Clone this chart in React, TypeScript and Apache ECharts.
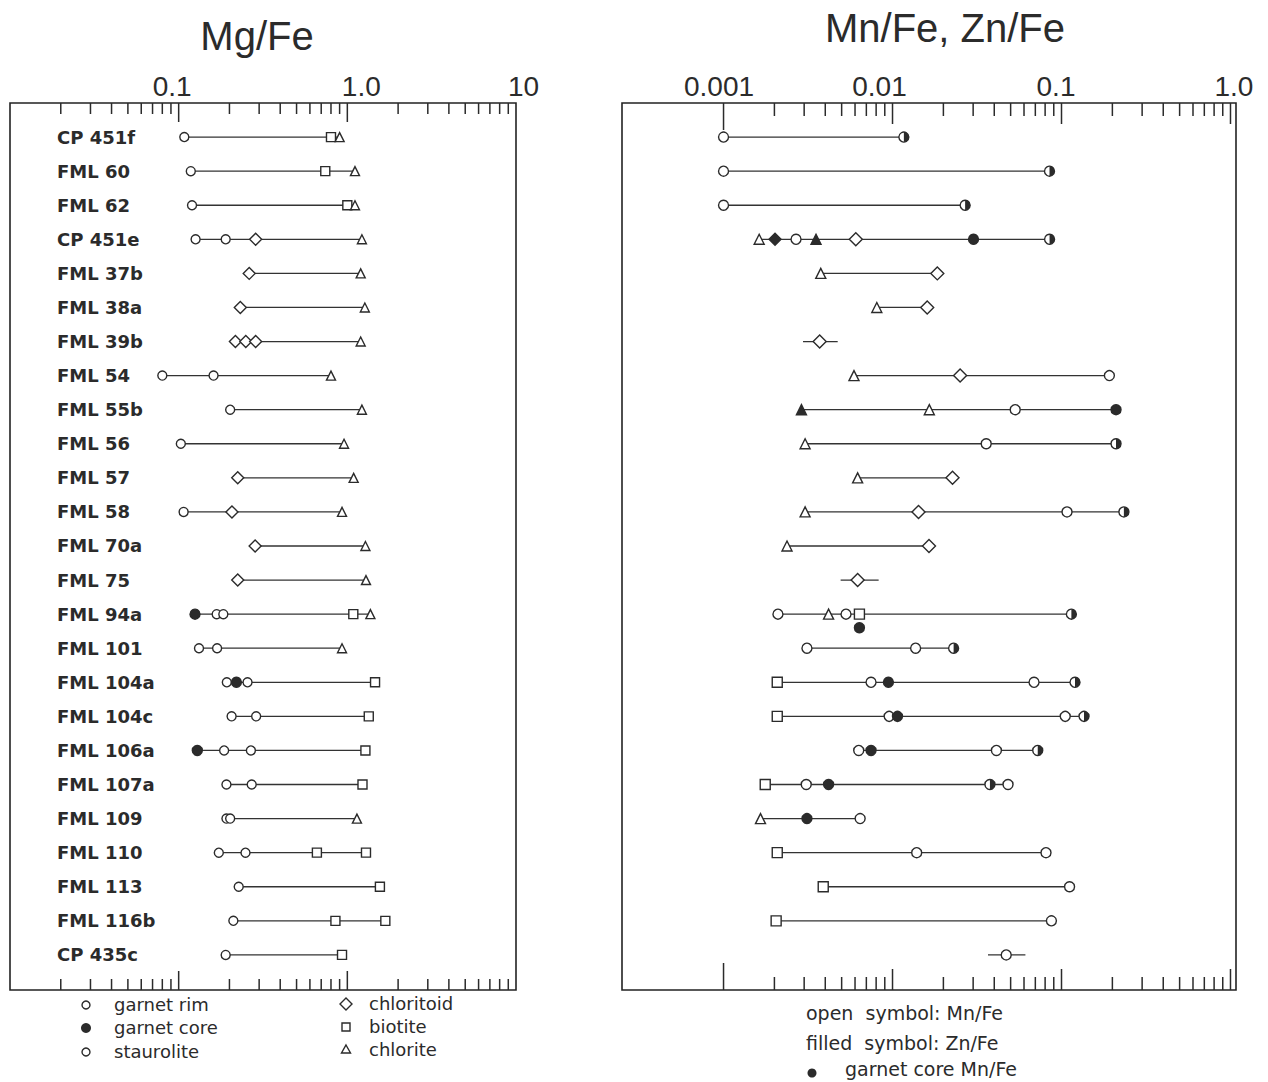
import { useEffect, useRef } from "react";
import * as echarts from "echarts";

// ---------- DATA ----------
const rowNames = [
  "CP 451f", "FML 60", "FML 62", "CP 451e", "FML 37b", "FML 38a", "FML 39b", "FML 54",
  "FML 55b", "FML 56", "FML 57", "FML 58", "FML 70a", "FML 75", "FML 94a", "FML 101",
  "FML 104a", "FML 104c", "FML 106a", "FML 107a", "FML 109", "FML 110", "FML 113",
  "FML 116b", "CP 435c",
];

// Mg/Fe panel: [value, rowIndex]
const mgOpenCircle: [number, number][] = [
  [0.108, 0], [0.118, 1], [0.12, 2], [0.126, 3], [0.19, 3], [0.08, 7], [0.161, 7],
  [0.202, 8], [0.103, 9], [0.107, 11], [0.168, 14], [0.184, 14], [0.132, 15], [0.169, 15],
  [0.193, 16], [0.256, 16], [0.206, 17], [0.288, 17], [0.186, 18], [0.268, 18],
  [0.192, 19], [0.271, 19], [0.192, 20], [0.202, 20], [0.173, 21], [0.249, 21],
  [0.227, 22], [0.211, 23], [0.19, 24],
];
const mgFilledCircle: [number, number][] = [[0.125, 14], [0.22, 16], [0.129, 18]];
const mgDiamond: [number, number][] = [
  [0.286, 3], [0.262, 4], [0.232, 5], [0.217, 6], [0.25, 6], [0.286, 6], [0.224, 10],
  [0.207, 11], [0.284, 12], [0.224, 13],
];
const mgSquare: [number, number][] = [
  [0.8, 0], [0.74, 1], [1.0, 2], [1.085, 14], [1.46, 16], [1.34, 17], [1.28, 18],
  [1.23, 19], [0.66, 21], [1.29, 21], [1.56, 22], [0.85, 23], [1.68, 23], [0.93, 24],
];
const mgTriangle: [number, number][] = [
  [0.9, 0], [1.11, 1], [1.11, 2], [1.22, 3], [1.2, 4], [1.27, 5], [1.2, 6], [0.8, 7],
  [1.22, 8], [0.956, 9], [1.09, 10], [0.93, 11], [1.28, 12], [1.29, 13], [1.37, 14],
  [0.93, 15], [1.14, 20],
];

// Mn/Fe, Zn/Fe panel: [value, rowIndex]
const mnOpenCircle: [number, number][] = [
  [0.001, 0], [0.001, 1], [0.001, 2], [0.002685, 3], [0.192, 7], [0.05321, 8], [0.03584, 9],
  [0.1078, 11], [0.002099, 14], [0.005306, 14], [0.003116, 15], [0.0137, 15],
  [0.007462, 16], [0.06877, 16], [0.00955, 17], [0.1052, 17], [0.00631, 18], [0.04119, 18],
  [0.003086, 19], [0.04825, 19], [0.006433, 20], [0.0139, 21], [0.08095, 21],
  [0.1116, 22], [0.08715, 23], [0.04708, 24],
];
const mnFilledCircle: [number, number][] = [
  [0.03015, 3], [0.2102, 8], [0.009456, 16], [0.0107, 17], [0.007462, 18], [0.004185, 19],
  [0.003116, 20],
];
const mnHalfCircle: [number, number][] = [
  [0.01167, 0], [0.0849, 1], [0.0269, 2], [0.085, 3], [0.2102, 9], [0.234, 11],
  [0.1144, 14], [0.02299, 15], [0.1202, 16], [0.1359, 17], [0.07232, 18], [0.03771, 19],
];
const mnOpenDiamond: [number, number][] = [
  [0.006063, 3], [0.01841, 4], [0.01604, 5], [0.003706, 6], [0.02512, 7], [0.02265, 10],
  [0.01425, 11], [0.01644, 12], [0.006217, 13],
];
const mnFilledDiamond: [number, number][] = [[0.002017, 3]];
const mnOpenTriangle: [number, number][] = [
  [0.001625, 3], [0.003762, 4], [0.008075, 5], [0.005916, 7], [0.01651, 8], [0.003039, 9],
  [0.006217, 10], [0.003039, 11], [0.002375, 12], [0.004185, 14], [0.001655, 20],
];
const mnFilledTriangle: [number, number][] = [[0.003526, 3], [0.002891, 8]];
const mnSquare: [number, number][] = [
  [0.00637, 14], [0.002079, 16], [0.002079, 17], [0.001765, 19], [0.002079, 21],
  [0.00389, 22], [0.002048, 23],
];
const mnGarnetCoreDot: [number, number][] = [[0.00637, 14.4]];
// short isolated dashes around a single symbol: [from, to, row]
const mnStubs: [number, number, number][] = [
  [0.002954, 0.004738, 6], [0.004931, 0.008277, 13], [0.03673, 0.06115, 24],
];

const mgAxisValues = [0.1, 1, 10];
const mgAxisLabels = ["0.1", "1.0", "10"];
const mnAxisValues = [0.001, 0.01, 0.1, 1];
const mnAxisLabels = ["0.001", "0.01", "0.1", "1.0"];

// ---------- HELPERS ----------
const INK = "#2b2b2b";

function rowExtents(groups: [number, number][][], stubs: [number, number, number][] = []) {
  const ext: Record<number, [number, number]> = {};
  groups.forEach((g) =>
    g.forEach(([v, r]) => {
      if (!ext[r]) ext[r] = [v, v];
      else ext[r] = [Math.min(ext[r][0], v), Math.max(ext[r][1], v)];
    })
  );
  const out: number[][] = [];
  Object.keys(ext).forEach((k) => {
    const r = Number(k);
    if (ext[r][1] > ext[r][0]) out.push([ext[r][0], ext[r][1], r]);
  });
  stubs.forEach((s) => out.push([s[0], s[1], s[2]]));
  return out;
}

function logTicks(fromExp: number, toExp: number) {
  const t: number[] = [];
  for (let e = fromExp; e <= toExp; e++) {
    for (let k = 2; k <= 9; k++) t.push(k * Math.pow(10, e));
  }
  return t;
}

function isPow10(v: number) {
  const l = Math.log10(v);
  return Math.abs(l - Math.round(l)) < 1e-6;
}

function tickSeries(gi: number, values: number[], lenFn: (v: number) => number) {
  return {
    type: "custom",
    xAxisIndex: gi,
    yAxisIndex: gi,
    silent: true,
    clip: false,
    z: 1,
    data: values.map((v) => [v, 0]),
    renderItem: (params: any, api: any) => {
      const v = api.value(0);
      const x = api.coord([v, 0])[0];
      const cs = params.coordSys;
      const len = lenFn(v);
      return {
        type: "group",
        children: [
          { type: "line", shape: { x1: x, y1: cs.y, x2: x, y2: cs.y + len }, style: { stroke: INK, lineWidth: 1.5 } },
          {
            type: "line",
            shape: { x1: x, y1: cs.y + cs.height, x2: x, y2: cs.y + cs.height - len },
            style: { stroke: INK, lineWidth: 1.5 },
          },
        ],
      };
    },
  };
}

function lineSeries(gi: number, data: number[][]) {
  return {
    type: "custom",
    xAxisIndex: gi,
    yAxisIndex: gi,
    silent: true,
    z: 2,
    encode: { x: [0, 1], y: 2 },
    data,
    renderItem: (_p: any, api: any) => {
      const a = api.coord([api.value(0), api.value(2)]);
      const b = api.coord([api.value(1), api.value(2)]);
      return {
        type: "line",
        shape: { x1: a[0], y1: a[1], x2: b[0], y2: b[1] },
        style: { stroke: "#333", lineWidth: 1.3 },
      };
    },
  };
}

function scatter(gi: number, data: [number, number][], symbol: string, size: number, filled: boolean) {
  return {
    type: "scatter",
    xAxisIndex: gi,
    yAxisIndex: gi,
    silent: true,
    z: filled ? 4 : 3,
    symbol,
    symbolSize: size,
    data,
    itemStyle: { color: filled ? INK : "#fff", borderColor: INK, borderWidth: 1.4, opacity: 1 },
  };
}

function halfSeries(gi: number, data: [number, number][]) {
  return {
    type: "custom",
    xAxisIndex: gi,
    yAxisIndex: gi,
    silent: true,
    z: 4,
    data,
    renderItem: (_p: any, api: any) => {
      const p = api.coord([api.value(0), api.value(1)]);
      const r = 5;
      return {
        type: "group",
        children: [
          { type: "circle", shape: { cx: p[0], cy: p[1], r }, style: { fill: "#fff", stroke: INK, lineWidth: 1.4 } },
          {
            type: "sector",
            shape: { cx: p[0], cy: p[1], r0: 0, r, startAngle: -Math.PI / 2, endAngle: Math.PI / 2, clockwise: true },
            style: { fill: INK },
          },
        ],
      };
    },
  };
}

function axisLabelFormatter(values: number[], labels: string[]) {
  return (v: number) => {
    const idx = values.findIndex((t) => Math.abs(Math.log10(v) - Math.log10(t)) < 1e-6);
    return idx < 0 ? "" : `{s${idx}|${labels[idx]}}`;
  };
}

const numFont = { fontFamily: "Liberation Sans", fontSize: 28, color: INK };

function richFor(pads: number[][]) {
  const r: any = {};
  pads.forEach((p, i) => {
    r["s" + i] = { ...numFont, padding: p };
  });
  return r;
}

function rowLabel(v: number) {
  const i = Math.round(v);
  return Math.abs(v - i) < 1e-6 && i >= 0 && i < rowNames.length ? rowNames[i] : "";
}

function txt(text: string, x: number, y: number, size: number, family: string, align = "left") {
  return {
    type: "text",
    x,
    y,
    silent: true,
    style: {
      text,
      fontSize: size,
      fontFamily: family,
      fill: INK,
      align,
      textAlign: align,
      verticalAlign: "middle",
      textVerticalAlign: "middle",
    },
  };
}

const openStyle = { fill: "#fff", stroke: INK, lineWidth: 1.4 };

function buildOption() {
  const mgLines = rowExtents([mgOpenCircle, mgFilledCircle, mgDiamond, mgSquare, mgTriangle]);
  const mnLines = rowExtents(
    [mnOpenCircle, mnFilledCircle, mnHalfCircle, mnOpenDiamond, mnFilledDiamond, mnOpenTriangle, mnFilledTriangle, mnSquare],
    mnStubs
  );

  const mgTicks = [...logTicks(-2, 0), 0.1, 1];
  const mnTicks = [...logTicks(-3, -1), 0.001, 0.01, 0.1, 1];

  const gridCommon = { top: 103, height: 887, show: true, borderColor: "#222", borderWidth: 1.6, backgroundColor: "#fff" };

  const xCommon = {
    type: "log",
    logBase: 10,
    position: "top",
    axisLine: { show: false },
    axisTick: { show: false },
    splitLine: { show: false },
    minorTick: { show: false },
  };
  const yCommon = {
    type: "value",
    min: -1,
    max: 25.03,
    interval: 1,
    inverse: true,
    axisLine: { show: false },
    axisTick: { show: false },
    splitLine: { show: false },
  };

  return {
    animation: false,
    backgroundColor: "#fff",
    grid: [
      { ...gridCommon, left: 10, width: 506 },
      { ...gridCommon, left: 622, width: 614 },
    ],
    xAxis: [
      {
        ...xCommon,
        gridIndex: 0,
        min: 0.01,
        max: 10,
        axisLabel: {
          ...numFont,
          margin: 3,
          showMinLabel: true,
          showMaxLabel: true,
          formatter: axisLabelFormatter(mgAxisValues, mgAxisLabels),
          rich: richFor([[0, 13, 0, 0], [0, 0, 0, 28], [0, 0, 0, 15]]),
        },
      },
      {
        ...xCommon,
        gridIndex: 1,
        min: 0.0002507,
        max: 1.078,
        axisLabel: {
          ...numFont,
          margin: 3,
          showMinLabel: true,
          showMaxLabel: true,
          formatter: axisLabelFormatter(mnAxisValues, mnAxisLabels),
          rich: richFor([[0, 9, 0, 0], [0, 26, 0, 0], [0, 11, 0, 0], [0, 0, 0, 7]]),
        },
      },
    ],
    yAxis: [
      {
        ...yCommon,
        gridIndex: 0,
        axisLabel: {
          inside: true,
          margin: 47,
          formatter: rowLabel,
          fontFamily: "DejaVu Sans",
          fontWeight: "bold",
          fontSize: 18,
          color: INK,
        },
      },
      { ...yCommon, gridIndex: 1, axisLabel: { show: false } },
    ],
    series: [
      tickSeries(0, mgTicks, (v) => (isPow10(v) ? 19 : 11)),
      tickSeries(1, mnTicks, (v) => (Math.abs(v - 0.001) < 1e-9 ? 27 : isPow10(v) ? 21 : 13)),
      lineSeries(0, mgLines),
      lineSeries(1, mnLines),
      scatter(0, mgOpenCircle, "circle", 9, false),
      scatter(0, mgDiamond, "diamond", 12, false),
      scatter(0, mgSquare, "rect", 9, false),
      scatter(0, mgTriangle, "triangle", 9, false),
      scatter(0, mgFilledCircle, "circle", 10, true),
      scatter(1, mnOpenCircle, "circle", 10, false),
      scatter(1, mnOpenDiamond, "diamond", 13, false),
      scatter(1, mnSquare, "rect", 10, false),
      scatter(1, mnOpenTriangle, "triangle", 10, false),
      scatter(1, mnFilledCircle, "circle", 10, true),
      scatter(1, mnFilledDiamond, "diamond", 12, true),
      scatter(1, mnFilledTriangle, "triangle", 10, true),
      scatter(1, mnGarnetCoreDot, "circle", 10, true),
      halfSeries(1, mnHalfCircle),
    ],
    graphic: [
      txt("Mg/Fe", 257, 36, 40, "Liberation Sans", "center"),
      txt("Mn/Fe, Zn/Fe", 945, 28, 40, "Liberation Sans", "center"),
      // left legend
      { type: "circle", shape: { cx: 86, cy: 1005, r: 4 }, style: openStyle },
      txt("garnet rim", 114, 1004, 18, "DejaVu Sans"),
      { type: "circle", shape: { cx: 86, cy: 1028, r: 5 }, style: { fill: INK } },
      txt("garnet core", 114, 1027, 18, "DejaVu Sans"),
      { type: "circle", shape: { cx: 86, cy: 1052, r: 4 }, style: openStyle },
      txt("staurolite", 114, 1051, 18, "DejaVu Sans"),
      { type: "polygon", shape: { points: [[346, 998], [352, 1004], [346, 1010], [340, 1004]] }, style: openStyle },
      txt("chloritoid", 369, 1003, 18, "DejaVu Sans"),
      { type: "rect", shape: { x: 342, y: 1023, width: 8, height: 8 }, style: openStyle },
      txt("biotite", 369, 1026, 18, "DejaVu Sans"),
      { type: "polygon", shape: { points: [[346, 1045], [350.5, 1053], [341.5, 1053]] }, style: openStyle },
      txt("chlorite", 369, 1049, 18, "DejaVu Sans"),
      // right legend
      txt("open  symbol: Mn/Fe", 806, 1013, 19, "DejaVu Sans"),
      txt("filled  symbol: Zn/Fe", 806, 1043, 19, "DejaVu Sans"),
      { type: "circle", shape: { cx: 812, cy: 1073, r: 4.5 }, style: { fill: INK } },
      txt("garnet core Mn/Fe", 845, 1069, 19, "DejaVu Sans"),
    ],
  };
}

export default function App() {
  const ref = useRef<HTMLDivElement>(null);
  useEffect(() => {
    const chart = echarts.init(ref.current as HTMLDivElement, null, { renderer: "svg" });
    chart.setOption(buildOption() as any);
    return () => chart.dispose();
  }, []);
  return (
    <div
      ref={ref}
      style={{ position: "fixed", left: 0, top: 0, width: 1268, height: 1082, background: "#fff" }}
    />
  );
}
